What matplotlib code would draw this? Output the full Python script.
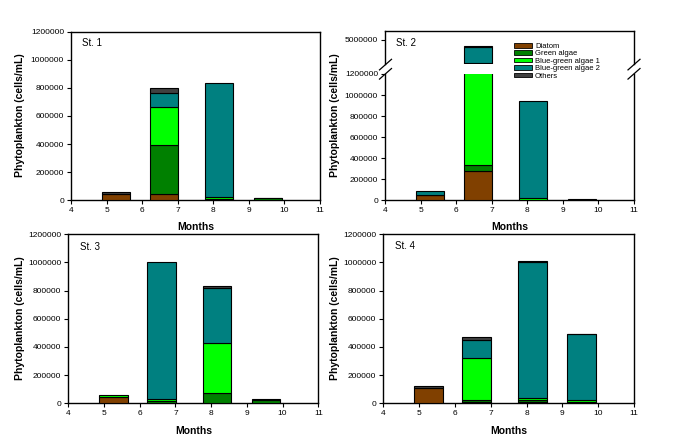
import matplotlib
matplotlib.use('Agg')
import matplotlib.pyplot as plt
from matplotlib.patches import Patch
from matplotlib.lines import Line2D
from matplotlib.ticker import FuncFormatter

plt.rcParams['font.family'] = ['Liberation Sans', 'DejaVu Sans']

# ---------------- data ----------------
groups = ['Diatom', 'Green algae', 'Blue-green algae 1', 'Blue-green algae 2', 'Others']
colors = ['#804000', '#008000', '#00FF00', '#008080', '#404040']
bar_x = [5.27, 6.61, 8.16, 9.54]          # bar positions on the month axis
x_ticks = [4, 5, 6, 7, 8, 9, 10, 11]
y_ticks = [0, 200000, 400000, 600000, 800000, 1000000, 1200000]

st1_diatom = [42000, 42000, 3000, 0]
st1_green = [0, 349000, 3000, 14000]
st1_bg1 = [0, 271000, 15000, 0]
st1_bg2 = [0, 104000, 812000, 0]
st1_others = [15000, 31000, 0, 2000]

st2_diatom = [50000, 275000, 3000, 3000]
st2_green = [3000, 60000, 3000, 0]
st2_bg1 = [0, 3365000, 12000, 0]
st2_bg2 = [35000, 900000, 927000, 0]
st2_others = [0, 50000, 0, 5000]

st3_diatom = [42000, 3000, 5000, 0]
st3_green = [0, 15000, 66000, 22000]
st3_bg1 = [15000, 12000, 355000, 0]
st3_bg2 = [0, 972000, 395000, 0]
st3_others = [0, 0, 12000, 8000]

st4_diatom = [110000, 10000, 8000, 5000]
st4_green = [0, 10000, 12000, 5000]
st4_bg1 = [0, 300000, 15000, 12000]
st4_bg2 = [0, 132000, 966000, 468000]
st4_others = [10000, 17000, 10000, 2000]

stations = {
    'St. 1': [st1_diatom, st1_green, st1_bg1, st1_bg2, st1_others],
    'St. 2': [st2_diatom, st2_green, st2_bg1, st2_bg2, st2_others],
    'St. 3': [st3_diatom, st3_green, st3_bg1, st3_bg2, st3_others],
    'St. 4': [st4_diatom, st4_green, st4_bg1, st4_bg2, st4_others],
}

W, H = 680, 441
fig = plt.figure(figsize=(W / 100, H / 100), dpi=100)


def rect(l, t, r, b):
    return [l / W, 1 - b / H, (r - l) / W, (b - t) / H]


def draw_bars(ax, series):
    bottom = [0] * len(bar_x)
    for vals, c in zip(series, colors):
        xs = [x for x, v in zip(bar_x, vals) if v > 0]
        hs = [v for v in vals if v > 0]
        bs = [b for b, v in zip(bottom, vals) if v > 0]
        ax.bar(xs, hs, width=0.8, bottom=bs, color=c, edgecolor='black',
               linewidth=0.8, zorder=3)
        bottom = [b + v for b, v in zip(bottom, vals)]


fmt = FuncFormatter(lambda v, p: f'{int(round(v))}')


def style(ax, xaxis=True):
    for s in ax.spines.values():
        s.set_linewidth(1.0)
    ax.set_xlim(4, 11)
    ax.tick_params(direction='out', length=3, width=0.8, labelsize=6, pad=2)
    if xaxis:
        ax.set_xticks(x_ticks)
    ax.yaxis.set_major_formatter(fmt)


# St. 1
ax1 = fig.add_axes(rect(71, 31.7, 320, 200.3))
draw_bars(ax1, stations['St. 1'])
style(ax1)
ax1.set_ylim(0, 1200000)
ax1.set_yticks(y_ticks)

# St. 2 (broken axis)
ax2 = fig.add_axes(rect(385, 74, 634, 200.3))
ax2u = fig.add_axes(rect(385, 31, 634, 64.3))
draw_bars(ax2, stations['St. 2'])
draw_bars(ax2u, stations['St. 2'])
style(ax2)
style(ax2u, xaxis=False)
ax2.set_ylim(0, 1200000)
ax2.set_yticks(y_ticks)
ax2u.set_ylim(3600000, 5500000)
ax2u.set_yticks([5000000])
ax2u.set_xticks([])
ax2.spines['top'].set_visible(False)
ax2u.spines['bottom'].set_visible(False)
for xp in (385.5, 634):
    for yp in (64.6, 73.8):
        fig.add_artist(Line2D([(xp - 6) / W, (xp + 6) / W],
                              [1 - (yp + 5.3) / H, 1 - (yp - 5.3) / H],
                              color='black', linewidth=0.9))

# St. 3
ax3 = fig.add_axes(rect(68.3, 234.3, 318.3, 403.3))
draw_bars(ax3, stations['St. 3'])
style(ax3)
ax3.set_ylim(0, 1200000)
ax3.set_yticks(y_ticks)

# St. 4
ax4 = fig.add_axes(rect(383.3, 234.3, 634, 403.3))
draw_bars(ax4, stations['St. 4'])
style(ax4)
ax4.set_ylim(0, 1200000)
ax4.set_yticks(y_ticks)

# station labels
for name, (xp, yp) in zip(['St. 1', 'St. 2', 'St. 3', 'St. 4'],
                          [(82, 43.3), (396.5, 42.7), (80, 246.7), (395, 245.7)]):
    fig.text(xp / W, 1 - yp / H, name, fontsize=7, ha='left', va='center')

# axis titles
for xp, yp in [(20, 115.5), (335, 115.5), (20, 318.3), (335, 318.3)]:
    fig.text(xp / W, 1 - yp / H, 'Phytoplankton (cells/mL)', rotation=90,
             fontsize=7.5, fontweight='bold', ha='center', va='center')
for xp, yp in [(195.5, 226.7), (509.5, 226.7), (193.3, 430.7), (508.6, 430.7)]:
    fig.text(xp / W, 1 - yp / H, 'Months', fontsize=7.5, fontweight='bold',
             ha='center', va='center')

# legend
handles = [Patch(facecolor=c, edgecolor='black', linewidth=0.6) for c in colors]
fig.legend(handles, groups, loc='upper left', bbox_to_anchor=(514 / W, 1 - 43 / H),
           frameon=False, fontsize=5.5, handlelength=2.4, handleheight=0.55,
           labelspacing=0.05, handletextpad=0.35, borderpad=0, borderaxespad=0)

fig.savefig('out.png', dpi=100)
